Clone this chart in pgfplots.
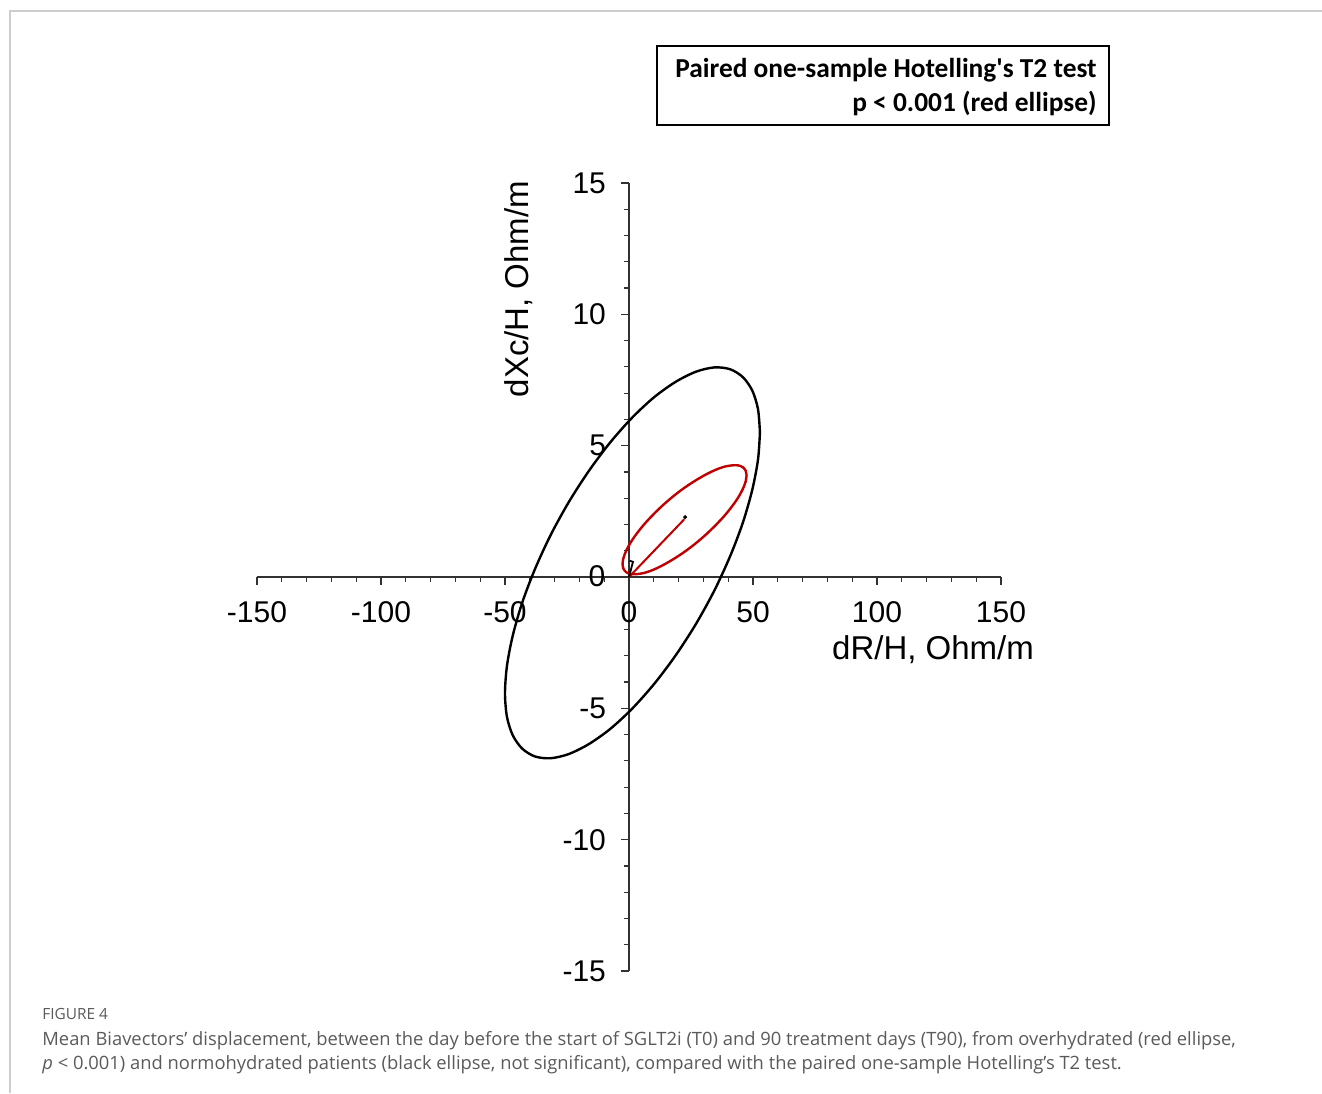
\documentclass[border=0pt]{standalone}
\usepackage{fontspec}
\usepackage{pgfplots}
\pgfplotsset{compat=1.18}
\setmainfont{Liberation Sans}
\newfontfamily\boxfont{Carlito}
\newfontfamily\capfont{Open Sans}
\definecolor{ellred}{RGB}{192,0,0}
\definecolor{axgray}{RGB}{50,50,50}
\definecolor{framegray}{RGB}{205,205,205}
\definecolor{capgray}{RGB}{90,90,90}
\begin{document}
\begin{tikzpicture}
\path[use as bounding box] (0,0) rectangle (661pt,-546.5pt);
\begin{scope}[x=0.5pt,y=0.5pt]
\draw[framegray, line width=1pt] (9,-11) -- (1322,-11);
\draw[framegray, line width=1pt] (10,-11) -- (10,-1093);
\draw[black, line width=0.75pt] (657,-46) rectangle (1109,-125);
\node[anchor=base east, inner sep=0pt, font=\boxfont\bfseries\fontsize{13.7}{16}\selectfont] at (1097,-77) {Paired one-sample Hotelling's T2 test};
\node[anchor=base east, inner sep=0pt, font=\boxfont\bfseries\fontsize{13.7}{16}\selectfont] at (1097,-111) {p < 0.001 (red ellipse)};
\node[anchor=base west, inner sep=0pt, text=capgray, font=\capfont\fontsize{7.7}{9}\selectfont] at (42,-1019) {FIGURE 4};
\node[anchor=base west, inner sep=0pt, text=capgray, font=\capfont\fontsize{9.18}{11}\selectfont] at (42,-1045) {Mean Biavectors’ displacement, between the day before the start of SGLT2i (T0) and 90 treatment days (T90), from overhydrated (red ellipse,};
\node[anchor=base west, inner sep=0pt, text=capgray, font=\capfont\fontsize{9.18}{11}\selectfont] at (42,-1069) {\textit{p} < 0.001) and normohydrated patients (black ellipse, not significant), compared with the paired one-sample Hotelling’s T2 test.};
\end{scope}
\begin{axis}[
  at={(314.5pt,-288.5pt)}, anchor=center,
  scale only axis, width=372pt, height=394pt,
  xmin=-150, xmax=150, ymin=-15, ymax=15,
  axis lines=middle,
  axis line style={-, axgray, line width=0.75pt},
  xtick={-150,-100,-50,0,50,100,150},
  ytick={-15,-10,-5,0,5,10,15},
  minor x tick num=4, minor y tick num=4,
  tick align=outside,
  major tick length=4pt, minor tick length=2.5pt,
  every tick/.style={axgray, line width=0.6pt},
  tick label style={font=\fontsize{15}{18}\selectfont},
  xticklabel style={yshift=-4.5pt},
  yticklabel style={xshift=-4pt},
  /pgf/number format/assume math mode=true,
  clip=false,
]
\addplot[black, line width=1.2pt, smooth] coordinates {
(52.80,5.51) (52.02,6.39) (49.70,7.10) (45.91,7.61) (40.77,7.91) (34.44,7.98) (27.10,7.82) (18.98,7.44) (10.32,6.86) (1.40,6.08) (-7.52,5.13) (-16.18,4.04) (-24.30,2.85) (-31.64,1.59) (-37.97,0.29) (-43.11,-0.99) (-46.90,-2.24) (-49.22,-3.39) (-50.00,-4.43) (-49.22,-5.32) (-46.90,-6.02) (-43.11,-6.53) (-37.97,-6.83) (-31.64,-6.90) (-24.30,-6.74) (-16.18,-6.36) (-7.52,-5.78) (1.40,-5.00) (10.32,-4.05) (18.98,-2.96) (27.10,-1.77) (34.44,-0.51) (40.77,0.79) (45.91,2.07) (49.70,3.32) (52.02,4.47) (52.80,5.51)
};
\addplot[ellred, line width=1.2pt, smooth] coordinates {
(47.40,3.87) (47.02,4.05) (45.89,4.18) (44.05,4.25) (41.55,4.25) (38.47,4.20) (34.90,4.08) (30.95,3.90) (26.74,3.67) (22.40,3.40) (18.06,3.09) (13.85,2.75) (9.90,2.39) (6.33,2.03) (3.25,1.67) (0.75,1.33) (-1.09,1.01) (-2.22,0.73) (-2.60,0.50) (-2.22,0.31) (-1.09,0.18) (0.75,0.11) (3.25,0.11) (6.33,0.16) (9.90,0.28) (13.85,0.46) (18.06,0.69) (22.40,0.96) (26.74,1.27) (30.95,1.61) (34.90,1.97) (38.47,2.33) (41.55,2.69) (44.05,3.03) (45.89,3.35) (47.02,3.63) (47.40,3.87)
};
\addplot[ellred, line width=1pt] coordinates {(0,0) (22.3,2.2)};
\addplot[black, line width=0.9pt] coordinates {(0,0) (1.6,0.58) (0.3,0.62)};
\addplot[black, only marks, mark=*, mark size=0.8pt] coordinates {(22.6,2.28)};
\node[font=\fontsize{15}{18}\selectfont] at (axis cs:0,-1.33) {0};
\node[font=\fontsize{15}{18}\selectfont] at (axis cs:-12.9,0.05) {0};
\node[font=\fontsize{16.5}{19}\selectfont] at (axis cs:122.6,-2.78) {dR/H, Ohm/m};
\node[rotate=90, font=\fontsize{16.5}{19}\selectfont] at (axis cs:-44.4,10.96) {dXc/H, Ohm/m};
\end{axis}
\end{tikzpicture}
\end{document}
